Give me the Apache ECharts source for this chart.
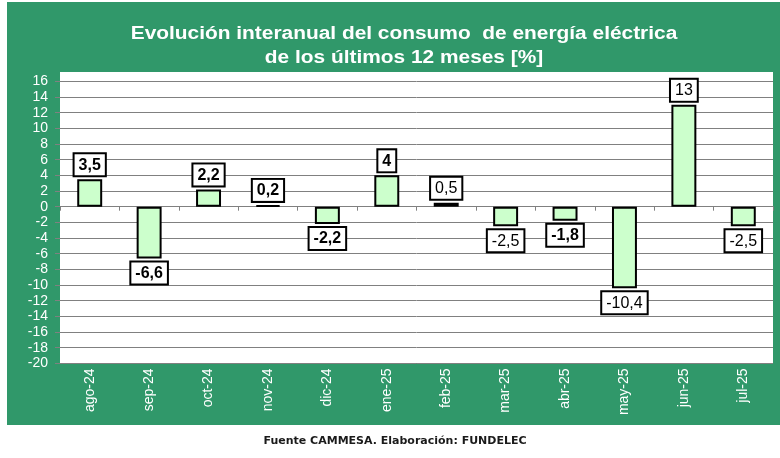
<!DOCTYPE html>
<html><head><meta charset="utf-8">
<script src="https://cdn.jsdelivr.net/npm/echarts@6/dist/echarts.min.js"></script>
<style>html,body{margin:0;padding:0;background:#fff}#c{width:780px;height:458px}</style>
</head><body><div id="c"></div>
<script>
const categories = ['ago-24','sep-24','oct-24','nov-24','dic-24','ene-25','feb-25','mar-25','abr-25','may-25','jun-25','jul-25'];
const values = [3.5, -6.6, 2.2, 0.2, -2.2, 4, 0.5, -2.5, -1.8, -10.4, 13, -2.5];
const boldLabels = [true, true, true, true, true, true, false, false, true, false, false, false];
const titleLines = ['Evolución interanual del consumo  de energía eléctrica', 'de los últimos 12 meses [%]'];
const footer = 'Fuente CAMMESA. Elaboración: FUNDELEC';
const yMin = -20, yMax = 16, yStep = 2;

const GREEN = '#30986a';
const chart = echarts.init(document.getElementById('c'));
const data = values.map((v, i) => ({
  value: v,
  label: {
    position: v >= 0 ? 'top' : 'bottom',
    fontWeight: boldLabels[i] ? 'bold' : 'normal'
  }
}));
const titleFont = 'bold 18px "Liberation Sans", Arial, sans-serif';
chart.setOption({
  animation: false,
  graphic: [
    {type: 'rect', z: -10, shape: {x: 7, y: 2, width: 773, height: 423}, style: {fill: GREEN}},
    {type: 'rect', z: -9, shape: {x: 60, y: 72, width: 713, height: 291}, style: {fill: '#ffffff'}},
    {type: 'text', z: 10, x: 404, y: 34, scaleX: 1.16, style: {text: titleLines[0], x: 0, y: 0, align: 'center', verticalAlign: 'middle', fill: '#ffffff', font: titleFont}},
    {type: 'text', z: 10, x: 404, y: 58, scaleX: 1.16, style: {text: titleLines[1], x: 0, y: 0, align: 'center', verticalAlign: 'middle', fill: '#ffffff', font: titleFont}},
    {type: 'text', z: 10, x: 395, y: 441, style: {text: footer, x: 0, y: 0, align: 'center', verticalAlign: 'middle', fill: '#1a1a1a', font: 'bold 11px "DejaVu Sans", Verdana, sans-serif'}}
  ],
  grid: {left: 60, right: 7, top: 81.3, bottom: 94.6, containLabel: false},
  xAxis: [
    {
      type: 'category', data: categories, position: 'bottom',
      axisLine: {show: false, onZero: false}, axisTick: {show: false},
      axisLabel: {rotate: 90, color: '#ffffff', fontSize: 14, fontFamily: '"Liberation Sans", Arial, sans-serif', margin: 5, interval: 0}
    },
    {
      type: 'category', data: categories, position: 'bottom',
      axisLine: {show: true, onZero: true, lineStyle: {color: '#808080', width: 1}},
      axisTick: {show: true, interval: 0, length: 4, lineStyle: {color: '#808080'}},
      axisLabel: {show: false}
    }
  ],
  yAxis: {
    type: 'value', min: yMin, max: yMax, interval: yStep,
    axisLine: {show: false},
    axisTick: {show: true, length: 5, lineStyle: {color: '#808080'}},
    splitLine: {show: true, lineStyle: {color: '#808080', width: 1}},
    axisLabel: {color: '#ffffff', fontSize: 14, fontFamily: '"Liberation Sans", Arial, sans-serif', margin: 12}
  },
  series: [{
    type: 'bar', xAxisIndex: 0, data: data, barWidth: '42%',
    itemStyle: {color: '#ccffcc', borderColor: '#000000', borderWidth: 2},
    label: {
      show: true, distance: 4,
      formatter: p => String(p.value).replace('.', ','),
      color: '#000000', fontSize: 16, fontFamily: '"Liberation Sans", Arial, sans-serif',
      backgroundColor: '#ffffff', borderColor: '#000000', borderWidth: 2,
      padding: [3, 4, 2, 4]
    }
  }]
});
</script></body></html>
